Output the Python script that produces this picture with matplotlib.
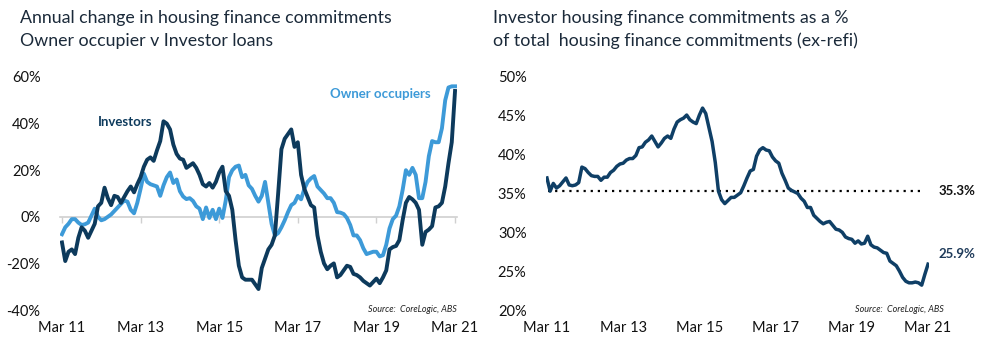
import numpy as np
import matplotlib
matplotlib.use("Agg")
import matplotlib.pyplot as plt
from matplotlib.transforms import blended_transform_factory

plt.rcParams['font.family'] = ['Lato', 'DejaVu Sans']

# ---- data (monthly, Mar 2011 - Mar 2021) ----
tick_labels = ["Mar 11", "Mar 13", "Mar 15", "Mar 17", "Mar 19", "Mar 21"]

investors = [
    -11, -19, -15, -14, -16, -9, -4.5, -6, -9, -6,
    -3, 4.5, 6, 12.5, 8, 5, 9, 8.5, 6, 8.5,
    11, 13, 10.5, 14, 17, 21.5, 24.5, 25.5, 24, 28.5,
    32.5, 41, 40, 37.5, 31, 27, 25, 24.5, 21, 22,
    23, 21, 18, 14, 13, 14.5, 12.5, 15, 19, 21.5,
    11, 9, 3, -10, -21, -26, -27, -27, -27, -29,
    -31, -22, -18, -14, -12, -8, 10, 29, 33.5, 35.5,
    37.5, 30, 32, 18, 12, 8.5, 5, 4, -8, -15,
    -20, -22.5, -21, -20, -26, -25, -23, -21, -21.5, -24.5,
    -25, -26, -27.5, -28.5, -29.5, -28, -26.5, -28.5, -26, -23,
    -14, -13, -12.5, -10, -1.5, 6, 8.5, 7.5, 6, 3,
    -12, -6.5, -5.5, -4, 4, 4.5, 6, 13, 23, 32,
    54,
]

owner_occupiers = [
    -7.5, -4.5, -3, -1, -1, -2.5, -3.5, -3.2, -2.5, 0.5,
    3.5, 0, -1.5, -1, 0, 1, 2.5, 4, 5.5, 7,
    6.5, 3, 1.5, 6, 12, 18.5, 15, 14, 13.5, 13,
    9, 13.5, 17, 19, 14.5, 16, 11, 8.7, 7.6, 8,
    6.8, 4.5, 3.5, -1, 4, -0.5, 3, -1, 3.5, -0.5,
    7, 17, 20, 21.5, 22, 17, 18, 13.5, 12, 9,
    6.5, 9, 15, 6, -3, -8, -7, -4.5, -1.5, 2,
    5, 6, 9, 7.5, 12, 15, 16.5, 17.5, 13, 11.5,
    10, 8, 8, 6, 2, 1.8, 1.2, -0.5, -3.5, -8,
    -8, -10, -13.5, -16, -15.5, -15, -15, -17, -16.5, -12,
    -5, -1, 0.5, 4.5, 11.5, 20, 18, 21, 18, 8,
    8, 15, 26, 32.5, 32, 32, 38, 50, 55.5, 56,
    56,
]

investor_share = [
    37.0, 35.3, 36.3, 35.7, 36.0, 36.5, 37.0, 36.1, 36.0, 36.1,
    36.4, 38.4, 38.2, 37.7, 37.3, 37.2, 37.2, 36.7, 37.1, 37.1,
    37.7, 38.0, 38.5, 38.8, 38.9, 39.3, 39.5, 39.5, 39.9, 40.9,
    41.0, 41.6, 41.9, 42.4, 41.7, 41.0, 41.5, 42.1, 42.4, 42.1,
    43.3, 44.2, 44.5, 44.7, 45.1, 44.5, 44.2, 44.0, 45.1, 46.0,
    45.3, 43.5, 41.7, 39.0, 35.3, 34.2, 33.7, 34.1, 34.5, 34.5,
    34.8, 35.1, 36.0, 37.0, 37.9, 38.1, 39.8, 40.6, 40.9, 40.6,
    40.5, 39.7, 39.2, 38.9, 37.6, 36.7, 35.7, 35.4, 35.2, 35.0,
    34.4, 34.0, 33.2, 33.2, 32.2, 31.8, 31.4, 31.1, 31.3, 31.4,
    30.9, 30.4, 30.3, 30.0, 29.4, 29.2, 29.1, 28.6, 28.9, 28.5,
    28.6, 29.5, 28.4, 28.1, 28.0, 27.7, 27.4, 27.3, 26.3, 26.0,
    25.7, 25.0, 24.2, 23.7, 23.5, 23.5, 23.6, 23.5, 23.2, 24.6,
    25.9,
]
average_share = 35.3

# ---- styling ----
DARK = "#0d3a5c"
LIGHT = "#3d9ad8"
RIGHT_LINE = "#0f3f66"
TEXT = "#1b2a3a"

W, H = 987, 351
fig = plt.figure(figsize=(W / 100, H / 100), dpi=100)

def fx(px):
    return px / W

def fy(py):
    return 1 - py / H

# ---------------- left panel ----------------
axl = fig.add_axes([fx(60), fy(310), fx(457) - fx(60), fy(77) - fy(310)])
xl = np.arange(len(investors))
axl.plot(xl, owner_occupiers, color=LIGHT, lw=2.8, solid_joinstyle='round', zorder=3)
axl.plot(xl, investors, color=DARK, lw=2.8, solid_joinstyle='round', zorder=4)
axl.set_xlim(-0.6, 120.6)
axl.set_ylim(-40, 60)
axl.set_yticks([-40, -20, 0, 20, 40, 60])
axl.set_yticklabels([f"{v}%" for v in [-40, -20, 0, 20, 40, 60]])
for s in ["top", "right", "left"]:
    axl.spines[s].set_visible(False)
axl.spines["bottom"].set_position(("data", 0))
axl.spines["bottom"].set_color("#d0d0d0")
axl.spines["bottom"].set_linewidth(1.2)
axl.spines["bottom"].set_zorder(1)
ticks = np.arange(0, 121, 24)
axl.set_xticks(ticks)
axl.tick_params(axis="x", which="both", length=4, color="#d0d0d0", width=1.0,
                labelbottom=False)
axl.tick_params(axis="y", length=0, pad=14, labelsize=10.5, labelcolor="#111111")
secl = axl.secondary_xaxis(0.0)
secl.set_xticks(ticks)
secl.set_xticklabels(tick_labels)
secl.tick_params(length=0, pad=8, labelsize=10.5, labelcolor="#111111")
secl.spines["bottom"].set_visible(False)

axl.text(0.165, 0.808, "Investors", transform=axl.transAxes, color=DARK,
         fontsize=9.5, fontweight="bold", ha="center", va="center")
axl.text(0.806, 0.927, "Owner occupiers", transform=axl.transAxes, color=LIGHT,
         fontsize=9.5, fontweight="bold", ha="center", va="center")
axl.text(1.0, 0.0, "Source:  CoreLogic, ABS", transform=axl.transAxes,
         fontsize=6.5, style="italic", color="#222222", ha="right", va="center")

fig.text(fx(20), fy(18), "Annual change in housing finance commitments",
         fontsize=12.8, color=TEXT, ha="left", va="center")
fig.text(fx(20), fy(41), "Owner occupier v Investor loans",
         fontsize=12.8, color=TEXT, ha="left", va="center")

# ---------------- right panel ----------------
axr = fig.add_axes([fx(546), fy(310), fx(929) - fx(546), fy(77) - fy(310)])
xr = np.arange(len(investor_share))
axr.plot(xr, investor_share, color=RIGHT_LINE, lw=2.5, solid_joinstyle='round', zorder=3)
axr.axhline(average_share, xmin=0.005, xmax=0.985, color="black", lw=1.6,
            linestyle=(0, (1, 2.2)), zorder=2)
axr.set_xlim(-0.3, 120.3)
axr.set_ylim(20, 50)
axr.set_yticks([20, 25, 30, 35, 40, 45, 50])
axr.set_yticklabels([f"{v}%" for v in [20, 25, 30, 35, 40, 45, 50]])
for s in ["top", "right", "left", "bottom"]:
    axr.spines[s].set_visible(False)
axr.set_xticks(ticks)
axr.set_xticklabels(tick_labels)
axr.tick_params(axis="x", length=0, pad=8, labelsize=10.5, labelcolor="#111111")
axr.tick_params(axis="y", length=0, pad=14, labelsize=10.5, labelcolor="#111111")

tr = blended_transform_factory(axr.transAxes, axr.transData)
axr.text(1.025, average_share, f"{average_share:.1f}%", transform=tr,
         fontsize=9.5, fontweight="bold", color="#111111", ha="left", va="center")
axr.text(1.025, 27.2, f"{investor_share[-1]:.1f}%", transform=tr,
         fontsize=9.5, fontweight="bold", color="#1f3b5a", ha="left", va="center")
axr.text(1.04, 0.0, "Source:  CoreLogic, ABS", transform=axr.transAxes,
         fontsize=6.5, style="italic", color="#222222", ha="right", va="center")

fig.text(fx(493), fy(18), "Investor housing finance commitments as a %",
         fontsize=12.8, color=TEXT, ha="left", va="center")
fig.text(fx(493), fy(41), "of total  housing finance commitments (ex-refi)",
         fontsize=12.8, color=TEXT, ha="left", va="center")

fig.savefig("out.png", dpi=100)
